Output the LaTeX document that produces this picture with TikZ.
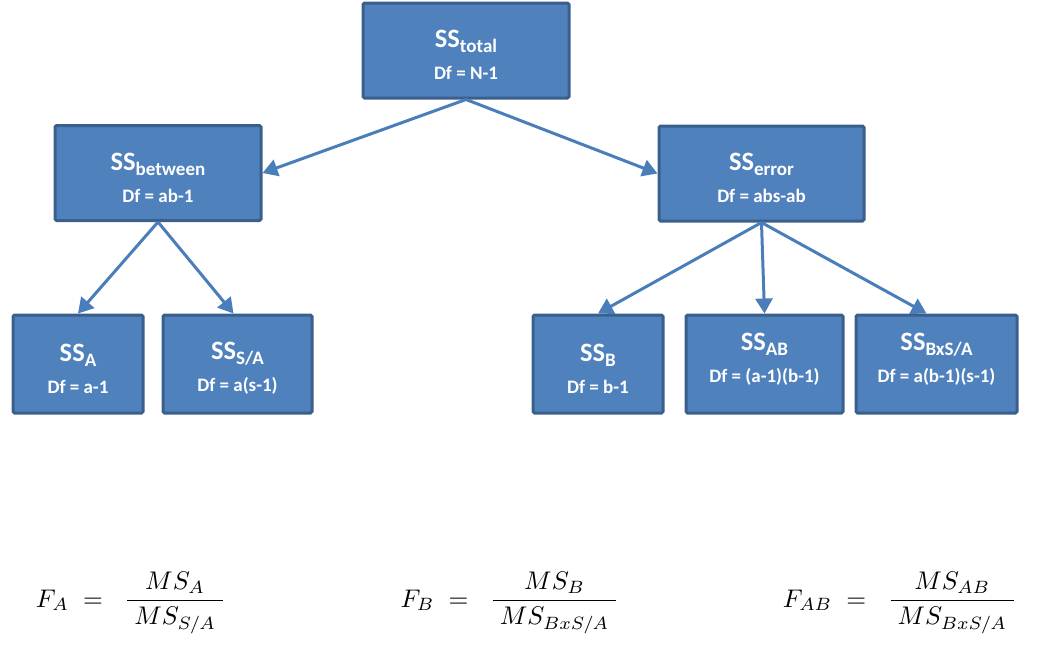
\documentclass[tikz,border=0pt]{standalone}
\usepackage{amsmath}
\usepackage[no-math]{fontspec}
\setmainfont{Carlito}
\usetikzlibrary{arrows.meta}
\definecolor{boxfill}{HTML}{4F81BD}
\definecolor{boxline}{HTML}{3A5F8C}
\definecolor{arrowline}{HTML}{4A7EBB}
% #1: depth of the last line (raises the text), #2: subscript, #3: degrees of freedom
\newcommand{\sslabel}[3][0pt]{\rule{0pt}{26.7pt}{\fontsize{26.5}{32}\selectfont SS\raisebox{-5pt}{\fontsize{19}{32}\selectfont #2}}\\{\fontsize{19}{32}\selectfont Df = #3}\rule[-#1]{0pt}{#1}}

\begin{document}
\begin{tikzpicture}[x=1pt, y=-1pt,
		ssbox/.style={draw=boxline, fill=boxfill, line width=3pt, rounded corners=1.5pt,
			text=white, font=\bfseries\fontsize{19}{32}\selectfont, align=center,
			inner sep=0pt, minimum height=95pt},
		flowarrow/.style={draw=arrowline, line width=3pt, -{Triangle[length=15pt,width=17pt]}},
		formula/.style={anchor=base, font=\fontsize{10}{12}\selectfont, scale=2.55, transform shape}]
			%%%%% START %%%%%
			
			\useasboundingbox (0, 0) rectangle (1042, 662);
			
			% top row
			\node[ssbox, minimum width=206pt] (total) at (466, 50.5) {\sslabel{total}{N-1}};
			
			% middle row
			\node[ssbox, minimum width=206pt] (between) at (158, 173) {\sslabel{between}{ab-1}};
			\node[ssbox, minimum width=205pt] (error) at (761.5, 173.5) {\sslabel{error}{abs-ab}};
			
			% bottom row
			\node[ssbox, minimum width=130pt, minimum height=98pt] (ssA) at (78, 364) {\sslabel{A}{a-1}};
			\node[ssbox, minimum width=149pt, minimum height=98pt] (ssSA) at (237.5, 364) {\sslabel{S/A}{a(s-1)}};
			\node[ssbox, minimum width=130pt, minimum height=98pt] (ssB) at (598, 364) {\sslabel{B}{b-1}};
			\node[ssbox, minimum width=157pt, minimum height=98pt] (ssAB) at (764.5, 364) {\sslabel[22.7pt]{AB}{(a-1)(b-1)}};
			\node[ssbox, minimum width=161pt, minimum height=98pt] (ssBSA) at (936.5, 364) {\sslabel[22.7pt]{BxS/A}{a(b-1)(s-1)}};
			
			% arrows
			\draw[flowarrow] (total.south) -- (between.east);
			\draw[flowarrow] (total.south) -- (error.west);
			\draw[flowarrow] (between.south) -- (ssA.north);
			\draw[flowarrow] (between.south) -- ([xshift=-4pt]ssSA.north);
			\draw[flowarrow] (error.south) -- (ssB.north);
			\draw[flowarrow] (error.south) -- (ssAB.north);
			\draw[flowarrow] (error.south) -- ([xshift=-10pt]ssBSA.north);
			
			% F ratios
			\node[formula] (fA) at (131, 607) {$F_A \;= \;\;\dfrac{MS_A}{\;MS_{S/A}\;}$};
			\node[formula] (fB) at (510, 607) {$F_B \;= \;\;\dfrac{MS_B}{\;MS_{BxS/A}\;}$};
			\node[formula] (fAB) at (900, 607) {$F_{AB} \;= \;\;\dfrac{MS_{AB}}{\;MS_{BxS/A}\;}$};
			
			%%%%% END %%%%%
		\end{tikzpicture}
\end{document}
